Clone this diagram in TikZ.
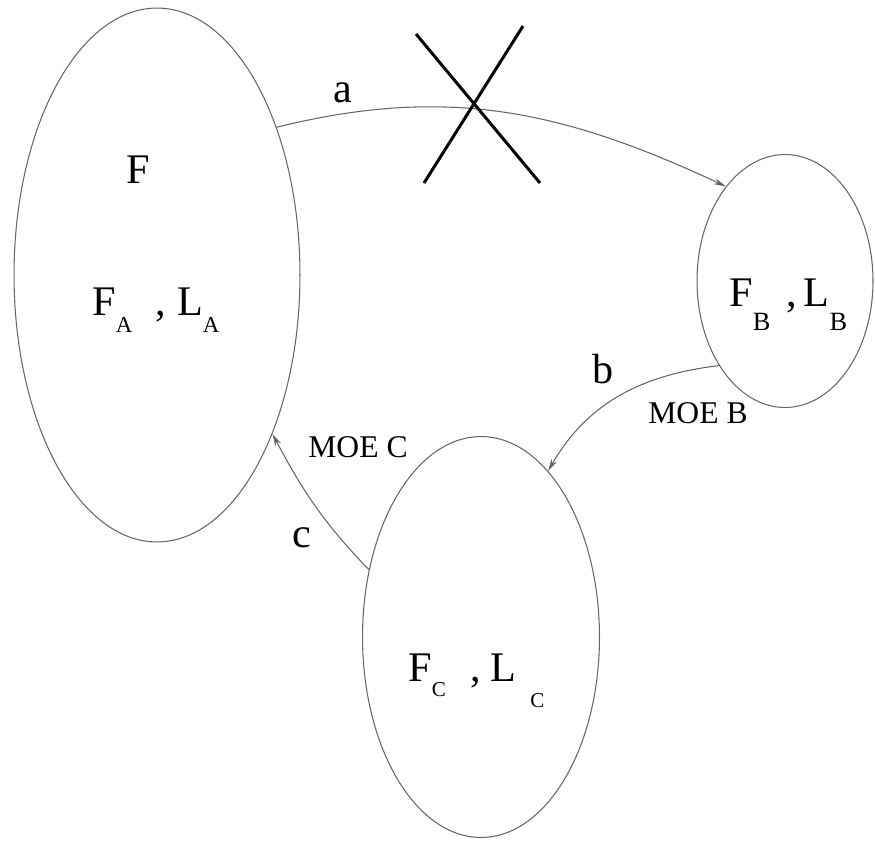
\documentclass[tikz,border=0pt]{standalone}
\usepackage{fontspec}
\setmainfont{Liberation Serif}
\usetikzlibrary{shapes.geometric,arrows.meta}

% subindice bajado: \lsub{bajada}{tamano}{letra}
\newcommand{\lsub}[3]{\raisebox{-#1}{\fontsize{#2}{#2}\selectfont #3}}

\begin{document}
\begin{tikzpicture}[x=0.02cm,y=-0.02cm,
    conjunto/.style={draw=black!60,line width=0.6pt,ellipse,inner sep=0pt},
    flecha/.style={draw=black!60,line width=0.6pt,-{Stealth[length=7pt,width=3.5pt]}},
    texto/.style={anchor=base west,inner sep=0pt,font=\fontsize{24}{24}\selectfont},
    moe/.style={anchor=base west,inner sep=0pt,font=\fontsize{18}{18}\selectfont}]

    \useasboundingbox (0,0) rectangle (875,840);

    % Conjuntos
    \node[conjunto,minimum width=5.72cm,minimum height=10.68cm] (A) at (157,275) {};
    \node[conjunto,minimum width=3.52cm,minimum height=5.06cm] (B) at (785,281) {};
    \node[conjunto,minimum width=4.74cm,minimum height=8.02cm] (C) at (481,637) {};

    % Aristas
    \draw[flecha] (A.51) to[out=14,in=155] (B.122);
    \draw[flecha] (B.232) to[out=187,in=60] (C.68);
    \draw[flecha] (C.149) to[out=134,in=-62] (A.-54);

    % Cruz sobre la arista a
    \draw[line width=1.7pt] (416,34) -- (540,183);
    \draw[line width=1.7pt] (523,26) -- (424,183);

    % Etiquetas
    \node[texto] (F) at (126,183) {F};
    \node[texto] (la) at (333,102) {a};
    \node[texto] (lb) at (592,383) {b};
    \node[texto] (lc) at (292,547) {c};
    \node[moe] (mb) at (648,423) {MOE B};
    \node[moe] (mc) at (308,457) {MOE C};
    \node[texto] (fla) at (92,315) {F\lsub{10pt}{13}{A}\hspace{13pt},\hspace{6.5pt}L\lsub{10pt}{13}{A}};
    \node[texto] (flb) at (729,306) {F\lsub{14pt}{15}{B}\hspace{9pt},\hspace{4pt}L\lsub{14pt}{15}{B}};
    \node[texto] (flc) at (408,681) {F\lsub{9pt}{12}{C}\hspace{14pt},\hspace{5.5pt}L\hspace{8pt}\lsub{15pt}{12}{C}}; % C mas abajo
\end{tikzpicture}
\end{document}
